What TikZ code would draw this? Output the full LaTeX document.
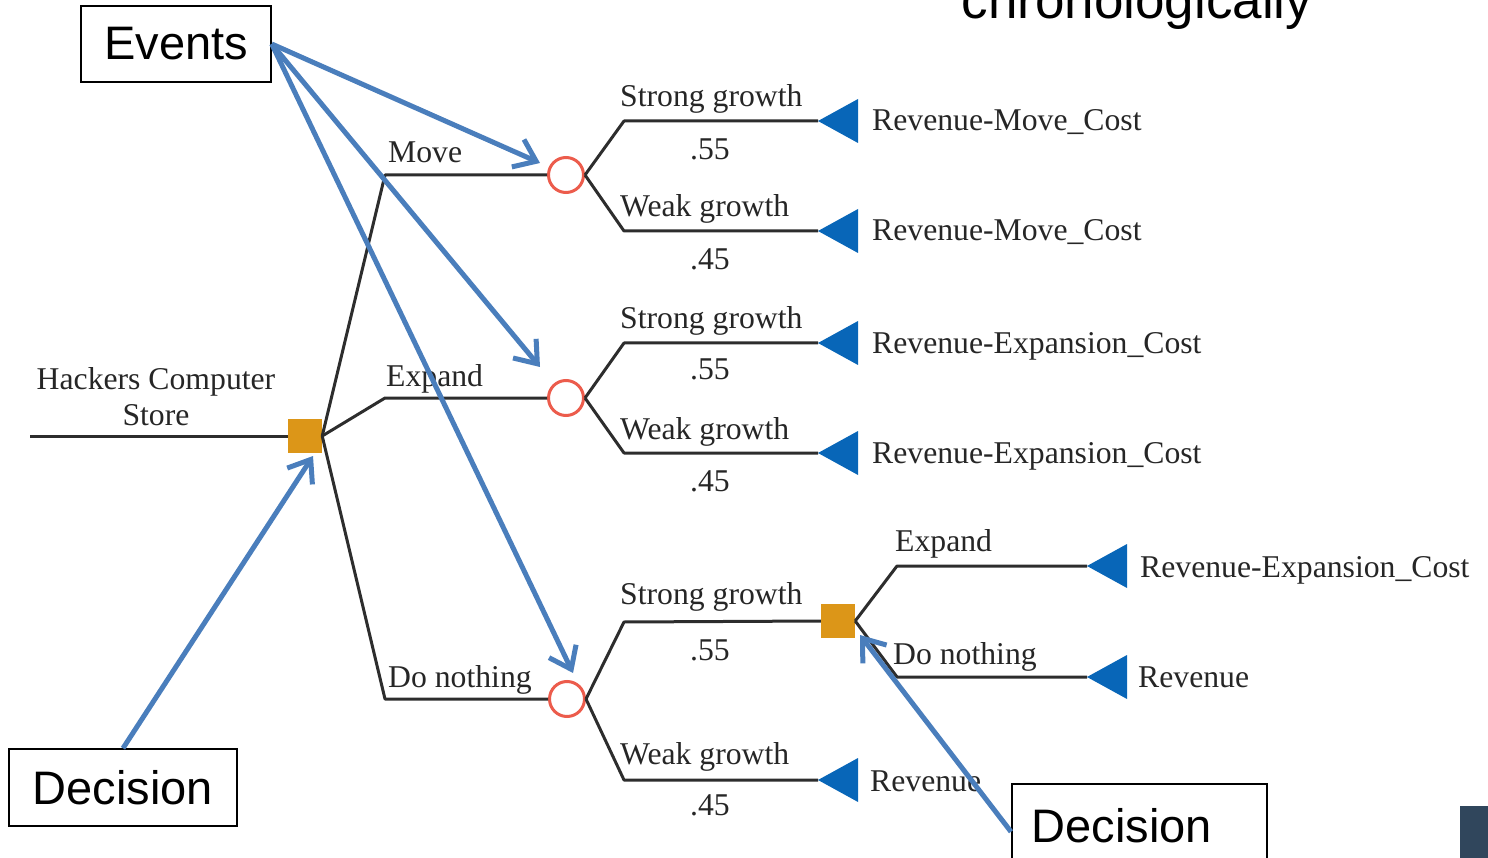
\documentclass[tikz,border=0pt]{standalone}
\usepackage{fontspec}
\setmainfont{Liberation Serif}
\newfontfamily\callout{Liberation Sans}
\usetikzlibrary{arrows.meta}
\definecolor{treeline}{RGB}{45,45,45}
\definecolor{chance}{RGB}{236,92,76}
\definecolor{decfill}{RGB}{220,150,24}
\definecolor{endblue}{RGB}{8,102,184}
\definecolor{pointer}{RGB}{74,126,188}
\definecolor{slate}{RGB}{48,70,92}

\begin{document}
\begin{tikzpicture}[x=1pt,y=-1pt,
  branch/.style={draw=treeline,line width=3pt,line join=round},
  lbl/.style={font=\fontsize{31.7}{36}\selectfont,text=black!85,inner sep=0pt,anchor=base west},
  prob/.style={font=\fontsize{31.7}{36}\selectfont,text=black!85,inner sep=0pt,anchor=base},
  chancenode/.style={circle,draw=chance,line width=3pt,minimum size=35pt,inner sep=0pt,fill=white},
  decnode/.style={rectangle,fill=decfill,minimum size=34pt,inner sep=0pt},
  payoff/.style={fill=endblue},
  callbox/.style={draw=black,line width=1.5pt,fill=white,font=\callout\fontsize{47}{50}\selectfont,inner sep=0pt},
  pointer/.style={draw=pointer,line width=5pt,-{Straight Barb[length=20pt,width=30pt]}}
]
\useasboundingbox (0,0) rectangle (1488,858);

% heading fragment
\node[font=\callout\fontsize{53}{56}\selectfont,inner sep=0pt,anchor=base] (head) at (1137,19) {chronologically};

% ---- root decision ----
\coordinate (root) at (30,436);
\node[decnode] (d0) at (305,436) {};
\draw[branch] (root) -- (d0.west);
\node[lbl,anchor=base] (hcs1) at (156,389) {Hackers Computer};
\node[lbl,anchor=base] (hcs2) at (156,425) {Store};

% ---- chance nodes ----
\node[chancenode] (c1) at (566,175) {};
\node[chancenode] (c2) at (566,398) {};
\node[chancenode] (c3) at (567,699) {};

\draw[branch] (d0.east) -- (385,175) -- (c1.west);
\draw[branch] (d0.east) -- (385,398) -- (c2.west);
\draw[branch] (d0.east) -- (385,699) -- (c3.west);
\node[lbl] (lmove) at (388,163) {Move};
\node[lbl] (lexp) at (386,386) {Expand};
\node[lbl] (lnone) at (388,687) {Do nothing};

% ---- second decision ----
\node[decnode] (d1) at (838,621) {};

% ---- payoff tips ----
\coordinate (t1) at (818,121);
\coordinate (t2) at (818,231);
\coordinate (t3) at (818,343);
\coordinate (t4) at (818,453);
\coordinate (t5) at (818,780);
\coordinate (t6) at (1087,566);
\coordinate (t7) at (1087,677);
\foreach \t in {t1,t2,t3,t4,t5,t6,t7}
  \fill[payoff] (\t) -- ++(40,-22) -- ++(0,44) -- cycle;

% ---- outcome branches ----
\draw[branch] (c1.east) -- (624,121) -- (t1);
\draw[branch] (c1.east) -- (624,231) -- (t2);
\draw[branch] (c2.east) -- (624,343) -- (t3);
\draw[branch] (c2.east) -- (624,453) -- (t4);
\draw[branch] (c3.east) -- (624,622) -- (d1.west);
\draw[branch] (c3.east) -- (624,780) -- (t5);
\draw[branch] (d1.east) -- (897,566) -- (t6);
\draw[branch] (d1.east) -- (897,677) -- (t7);

% ---- outcome labels ----
\node[lbl] (s1) at (620,107) {Strong growth};
\node[prob] (p1) at (710,160) {.55};
\node[lbl] (w1) at (620,217) {Weak growth};
\node[prob] (q1) at (710,270) {.45};
\node[lbl] (s2) at (620,329) {Strong growth};
\node[prob] (p2) at (710,380) {.55};
\node[lbl] (w2) at (620,439) {Weak growth};
\node[prob] (q2) at (710,491) {.45};
\node[lbl] (s3) at (620,604) {Strong growth};
\node[prob] (p3) at (710,660) {.55};
\node[lbl] (w3) at (620,764) {Weak growth};
\node[prob] (q3) at (710,815) {.45};
\node[lbl] (lexp2) at (895,551) {Expand};
\node[lbl] (lnone2) at (893,664) {Do nothing};

% ---- payoff labels ----
\node[lbl] (v1) at (872,131) {Revenue-Move\_Cost};
\node[lbl] (v2) at (872,241) {Revenue-Move\_Cost};
\node[lbl] (v3) at (872,353) {Revenue-Expansion\_Cost};
\node[lbl] (v4) at (872,463) {Revenue-Expansion\_Cost};
\node[lbl] (v5) at (870,791) {Revenue};
\node[lbl] (v6) at (1140,577) {Revenue-Expansion\_Cost};
\node[lbl] (v7) at (1138,687) {Revenue};

% ---- callouts ----
\node[callbox,minimum width=190pt,minimum height=76pt] (ev) at (176,44) {Events};
\node[callbox,minimum width=228pt,minimum height=77pt] (decA) at (123,787.5) {Decision};
\node[callbox,minimum width=255pt,minimum height=84pt,text width=215pt,inner xsep=20pt,align=left,anchor=north west] (decB) at (1011,783) {Decision};

\coordinate (e1) at (540,163);
\coordinate (e2) at (540,367);
\coordinate (e3) at (573,673);
\coordinate (k1) at (313,456);
\coordinate (k2) at (860,635);
\draw[pointer] (ev.east) -- (e1);
\draw[pointer] (ev.east) -- (e2);
\draw[pointer] (ev.east) -- (e3);
\draw[pointer] (decA.north) -- (k1);
\draw[pointer] ([yshift=-6pt]decB.west) -- (k2);

% corner tab
\fill[slate] (1460,806) rectangle (1488,858);
\end{tikzpicture}
\end{document}
